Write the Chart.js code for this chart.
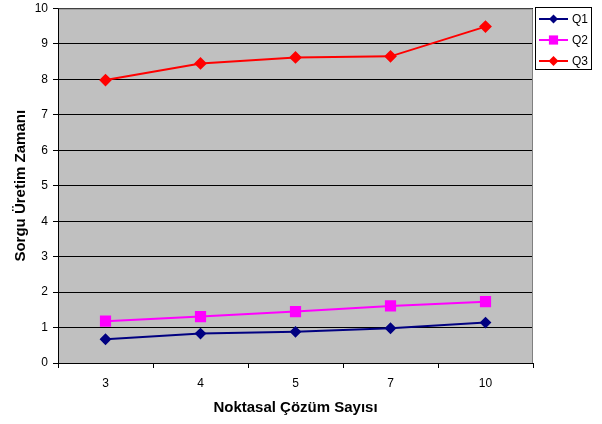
<!DOCTYPE html>
<html>
<head>
<meta charset="utf-8">
<script src="https://cdn.jsdelivr.net/npm/chart.js@4/dist/chart.umd.min.js"></script>
<style>
  html, body { margin: 0; padding: 0; background: #fff; }
  #wrap { width: 602px; height: 424px; }
</style>
</head>
<body>
<div id="wrap"><canvas id="c" width="602" height="424"></canvas></div>
<script>
// Number of point solutions on the x axis
const categories = ['3', '4', '5', '7', '10'];
// Query generation time per query
const q1 = [0.67, 0.83, 0.88, 0.98, 1.14];
const q2 = [1.18, 1.31, 1.45, 1.61, 1.73];
const q3 = [7.98, 8.45, 8.62, 8.65, 9.49];
const yTickValues = [0, 1, 2, 3, 4, 5, 6, 7, 8, 9, 10];

const FONT = '"Liberation Sans", Arial, sans-serif';

// Gray plot background and border
const plotFrame = {
  id: 'plotFrame',
  beforeDraw(chart) {
    const {ctx, chartArea: a} = chart;
    ctx.save();
    ctx.fillStyle = '#fff';
    ctx.fillRect(0, 0, chart.width, chart.height);
    ctx.fillStyle = '#c0c0c0';
    ctx.fillRect(a.left, a.top, a.right - a.left, a.bottom - a.top);
    ctx.restore();
  },
  afterDraw(chart) {
    const {ctx, chartArea: a} = chart;
    ctx.save();
    ctx.strokeStyle = '#808080';
    ctx.lineWidth = 1;
    ctx.beginPath();
    ctx.moveTo(a.left, a.top + 0.5);
    ctx.lineTo(a.right - 0.5, a.top + 0.5);
    ctx.lineTo(a.right - 0.5, a.bottom);
    ctx.stroke();
    ctx.strokeStyle = '#000';
    ctx.beginPath();
    ctx.moveTo(a.left + 0.5, a.top);
    ctx.lineTo(a.left + 0.5, a.bottom + 0.5);
    ctx.lineTo(a.right, a.bottom + 0.5);
    ctx.stroke();
    ctx.restore();
  }
};

function drawMarker(ctx, style, x, y, r, color) {
  ctx.fillStyle = color;
  ctx.beginPath();
  if (style === 'rect') {
    const s = r * Math.SQRT1_2;
    ctx.rect(x - s, y - s, 2 * s, 2 * s);
  } else {
    ctx.moveTo(x - r, y);
    ctx.lineTo(x, y - r);
    ctx.lineTo(x + r, y);
    ctx.lineTo(x, y + r);
    ctx.closePath();
  }
  ctx.fill();
}

// Boxed legend with line + marker samples
const boxLegend = {
  id: 'boxLegend',
  afterDraw(chart) {
    const {ctx} = chart;
    const x0 = 535.5, y0 = 7.5, w = 56, h = 62;
    ctx.save();
    ctx.fillStyle = '#fff';
    ctx.fillRect(x0, y0, w, h);
    ctx.strokeStyle = '#000';
    ctx.lineWidth = 1;
    ctx.strokeRect(x0, y0, w, h);
    ctx.font = '12px ' + FONT;
    ctx.textBaseline = 'middle';
    chart.data.datasets.forEach((ds, i) => {
      const y = 19 + i * 21;
      ctx.strokeStyle = ds.borderColor;
      ctx.lineWidth = 2;
      ctx.beginPath();
      ctx.moveTo(539, y);
      ctx.lineTo(568, y);
      ctx.stroke();
      drawMarker(ctx, ds.pointStyle, 553.5, y, ds.pointRadius, ds.borderColor);
      ctx.fillStyle = '#000';
      ctx.fillText(ds.label, 572, y + 1);
    });
    ctx.restore();
  }
};

new Chart(document.getElementById('c'), {
  type: 'line',
  data: {
    labels: categories,
    datasets: [
      { label: 'Q1', data: q1, borderColor: '#000080', backgroundColor: '#000080',
        pointStyle: 'rectRot', pointRadius: 4.5, borderWidth: 2, tension: 0 },
      { label: 'Q2', data: q2, borderColor: '#ff00ff', backgroundColor: '#ff00ff',
        pointStyle: 'rect', pointRadius: 6.5, borderWidth: 2, tension: 0 },
      { label: 'Q3', data: q3, borderColor: '#ff0000', backgroundColor: '#ff0000',
        pointStyle: 'rectRot', pointRadius: 5, borderWidth: 2, tension: 0 }
    ]
  },
  options: {
    responsive: false,
    animation: false,
    devicePixelRatio: 1,
    layout: { padding: { top: 7, right: 69, left: 0, bottom: 0 } },
    plugins: {
      legend: { display: false },
      tooltip: { enabled: false }
    },
    elements: { point: { borderWidth: 0, hoverRadius: 0 } },
    scales: {
      x: {
        offset: true,
        border: { display: false },
        grid: { offset: true, drawOnChartArea: false, tickLength: 5, color: '#000' },
        ticks: { color: '#000', font: { family: FONT, size: 12 }, padding: 8, maxRotation: 0 },
        title: { display: true, text: 'Noktasal Çözüm Sayısı', color: '#000',
                 font: { family: FONT, size: 15, weight: 'bold' }, padding: { bottom: 7, top: 0 } },
        afterFit(scale) {
          scale.height = 61;
          scale.paddingLeft = 0;
          scale.paddingRight = 0;
        }
      },
      y: {
        min: 0, max: 10,
        border: { display: false },
        afterBuildTicks(scale) { scale.ticks = yTickValues.map(v => ({ value: v })); },
        grid: { color: '#000', lineWidth: 1, tickLength: 5 },
        ticks: { color: '#000', font: { family: FONT, size: 12 }, padding: 5 },
        title: { display: true, text: 'Sorgu Üretim Zamanı', color: '#000',
                 font: { family: FONT, size: 15, weight: 'bold' }, padding: { top: 12, bottom: 0 } },
        afterFit(scale) {
          scale.width = 58;
          scale.paddingTop = 0;
          scale.paddingBottom = 0;
        }
      }
    }
  },
  plugins: [plotFrame, boxLegend]
});
</script>
</body>
</html>
